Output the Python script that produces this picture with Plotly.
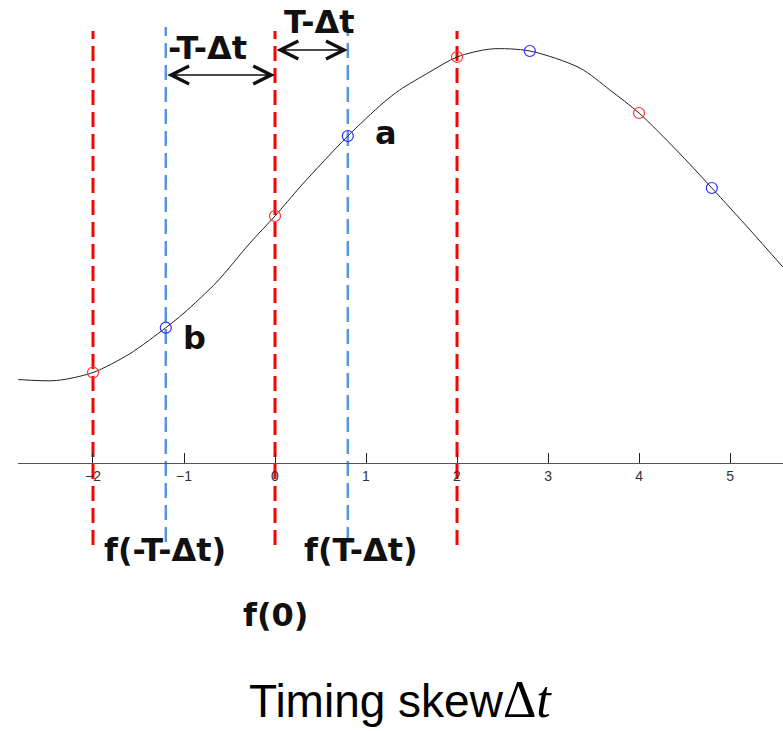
import plotly.graph_objects as go

curve_x = [-2.82, -2.4, -2.0, -1.6, -1.2, -1.0, -0.64, -0.275, 0.0, 0.275, 0.527,
           0.8, 1.187, 1.37, 1.7, 2.0, 2.37, 2.8, 3.35, 3.68, 4.0, 4.41, 4.8, 5.22, 5.58]
curve_y = [0.835, 0.825, 0.905, 1.09, 1.353, 1.50, 1.81, 2.20, 2.47, 2.76, 3.01,
           3.27, 3.60, 3.73, 3.91, 4.06, 4.14, 4.12, 3.95, 3.73, 3.50, 3.13, 2.75, 2.33, 1.96]

# Ideal sampling instants (red) and skewed instants (blue)
ideal_x = [-2, 0, 2, 4]
ideal_y = [0.905, 2.47, 4.06, 3.50]
skew_x = [-1.2, 0.8, 2.8, 4.8]
skew_y = [1.353, 3.27, 4.12, 2.75]

# Guide lines at the labelled instants
red_guides = [-2, 0, 2]
blue_guides = [-1.2, 0.8]

tick_vals = [-2, -1, 0, 1, 2, 3, 4, 5]
tick_text = ["\u22122", "\u22121", "0", "1", "2", "3", "4", "5"]

X_RANGE = [-2.824, 5.582]
Y_RANGE = [-2.68, 4.63]
RED = "#ff0000"
BLUE = "#5b95d9"

fig = go.Figure()

for gx in red_guides:
    fig.add_trace(go.Scatter(x=[gx, gx], y=[-0.82, 4.32], mode="lines",
                             line=dict(color=RED, width=3, dash="15px,7px"),
                             hoverinfo="skip", showlegend=False))
for gx in blue_guides:
    fig.add_trace(go.Scatter(x=[gx, gx], y=[-0.79, 4.36], mode="lines",
                             line=dict(color=BLUE, width=2.5, dash="15px,7px"),
                             hoverinfo="skip", showlegend=False))

fig.add_trace(go.Scatter(x=curve_x, y=curve_y, mode="lines",
                         line=dict(color="#222222", width=1, shape="spline", smoothing=0.8),
                         showlegend=False))
fig.add_trace(go.Scatter(x=ideal_x, y=ideal_y, mode="markers",
                         marker=dict(symbol="circle-open", size=11, color="#ff3333",
                                     line=dict(width=1.2)),
                         showlegend=False))
fig.add_trace(go.Scatter(x=skew_x, y=skew_y, mode="markers",
                         marker=dict(symbol="circle-open", size=11, color="#2a2aff",
                                     line=dict(width=1.2)),
                         showlegend=False))

label_font = dict(family="DejaVu Sans", size=32, color="#111111", weight="bold")

# Double-headed arrows marking the skewed intervals
arrows = [(-1.2, 0.0, 3.88), (0.0, 0.8, 4.13)]
for x0, x1, ya in arrows:
    fig.add_annotation(x=x1, y=ya, ax=x0, ay=ya, xref="x", yref="y", axref="x", ayref="y",
                       showarrow=True, arrowhead=5, startarrowhead=5, arrowside="end+start",
                       arrowsize=2.2, startarrowsize=2.2, arrowwidth=1.6, arrowcolor="#111111",
                       text="")

texts = [
    ("-T-\u0394t", -0.747, 4.15),
    ("T-\u0394t", 0.484, 4.41),
    ("a", 1.22, 3.30),
    ("b", -0.88, 1.25),
    ("f(-T-\u0394t)", -1.21, -0.87),
    ("f(T-\u0394t)", 0.945, -0.87),
    ("f(0)", 0.0, -1.52),
]
for t, tx, ty in texts:
    fig.add_annotation(x=tx, y=ty, xref="x", yref="y", text=t, showarrow=False,
                       font=label_font, xanchor="center", yanchor="middle")

# Axis caption: sans words followed by a serif "Δt" with italic t, on one baseline
fig.add_annotation(
    x=247 / 783, y=0.043, xref="paper", yref="paper", showarrow=False,
    xanchor="left", yanchor="middle",
    text=('Timing skew<span style="font-family:Liberation Serif;font-size:52px">'
          '\u0394<i>t</i></span>'),
    font=dict(family="Liberation Sans, Arial", size=46, color="#000000"),
)

axis_pos = (0 - Y_RANGE[0]) / (Y_RANGE[1] - Y_RANGE[0])

fig.update_layout(
    width=783, height=731,
    margin=dict(l=0, r=0, t=0, b=0),
    paper_bgcolor="white", plot_bgcolor="white",
    xaxis=dict(range=X_RANGE, domain=[18 / 783, 1], anchor="free", position=axis_pos,
               showgrid=False, zeroline=False, showline=True, linecolor="#555555", linewidth=1.2,
               ticks="inside", ticklen=10, tickcolor="#222222", tickwidth=1.2,
               tickvals=tick_vals, ticktext=tick_text,
               tickfont=dict(family="Liberation Sans, Arial", size=14, color="#333333")),
    yaxis=dict(range=Y_RANGE, visible=False, showgrid=False, zeroline=False),
)

fig.write_html("out.html")
